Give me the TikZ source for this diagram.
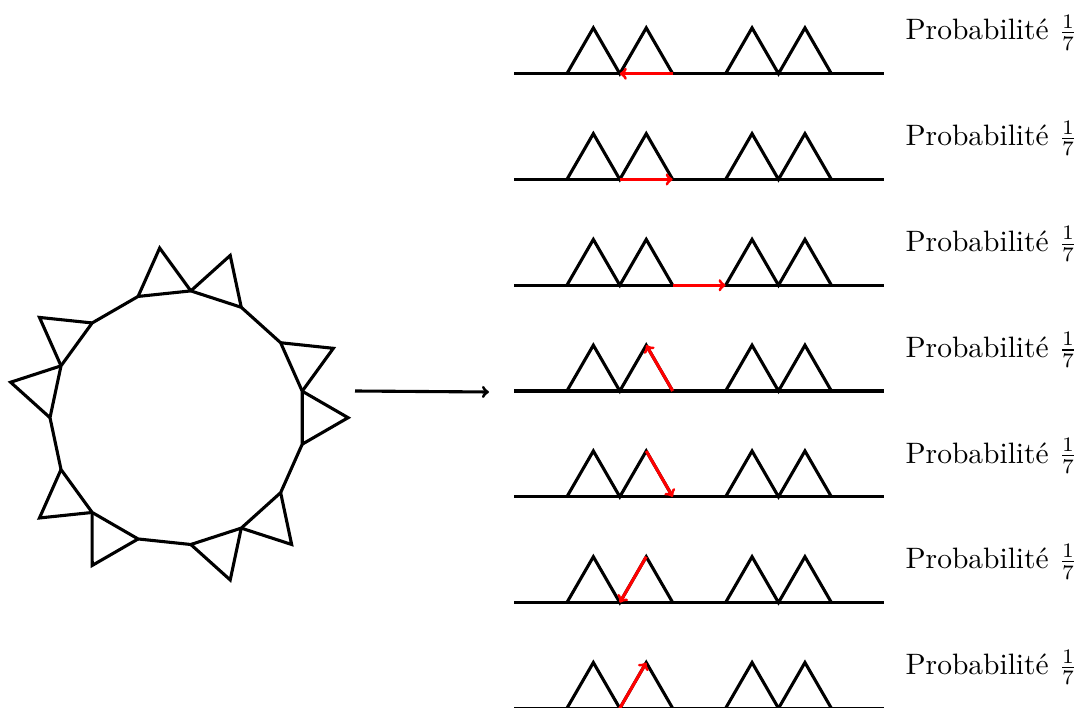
\documentclass[tikz,border=0pt]{standalone}
\usepackage{fontspec}
\usetikzlibrary{calc}
\begin{document}
\begin{tikzpicture}[x=1pt,y=-1pt]
\tikzset{
  edge/.style={line width=3.1pt},
  move/.style={line width=3.1pt, red, ->},
  prob/.style={anchor=base west, inner sep=0pt, scale=2.95}
}
\useasboundingbox (0,0) rectangle (1079,708);

% ---- closed chain: regular 15-gon with triangles on edges ----
\def\R{127.5}
\def\cx{177.5}
\def\cy{417.7}
\foreach \k in {0,...,14}{
  \coordinate (v\k) at ({\cx+\R*cos(180-24*\k)}, {\cy-\R*sin(180-24*\k)});
  \coordinate (t\k) at ({\cx+170.6*cos(168-24*\k)}, {\cy-170.6*sin(168-24*\k)});
}
\draw[edge] (v0)--(v1)--(v2)--(v3)--(v4)--(v5)--(v6)--(v7)--(v8)--(v9)--(v10)--(v11)--(v12)--(v13)--(v14)--cycle;
\foreach \k/\n in {0/1,1/2,3/4,4/5,6/7,7/8,9/10,10/11,12/13,13/14}{
  \draw[edge] (v\k)--(t\k)--(v\n);
}

% ---- arrow towards the open chains ----
\coordinate (s) at (355,391);
\coordinate (e) at (489,392);
\draw[edge,->] (s) -- (e);

% ---- open chains, one per possible move ----
\foreach \r in {1,...,7}{
  \pgfmathsetmacro{\yb}{73.7+105.77*(\r-1)}
  \foreach \k in {0,...,7}{
    \coordinate (r\r-\k) at ({514+52.9*\k}, \yb);
  }
  \foreach \k in {1,2,4,5}{
    \coordinate (r\r-a\k) at ({514+52.9*(\k+0.5)}, {\yb-45.8});
  }
  \draw[edge] (r\r-0) -- (r\r-7);
  \draw[edge] (r\r-1) -- (r\r-a1) -- (r\r-2) -- (r\r-a2) -- (r\r-3);
  \draw[edge] (r\r-4) -- (r\r-a4) -- (r\r-5) -- (r\r-a5) -- (r\r-6);
  \node[prob] (p\r) at (905, {\yb-33.7}) {Probabilité $\frac{1}{7}$};
}

\draw[move] (r1-3) -- (r1-2);
\draw[move] (r2-2) -- (r2-3);
\draw[move] (r3-3) -- (r3-4);
\draw[move] (r4-3) -- (r4-a2);
\draw[move] (r5-a2) -- (r5-3);
\draw[move] (r6-a2) -- (r6-2);
\draw[move] (r7-2) -- (r7-a2);
\end{tikzpicture}
\end{document}
